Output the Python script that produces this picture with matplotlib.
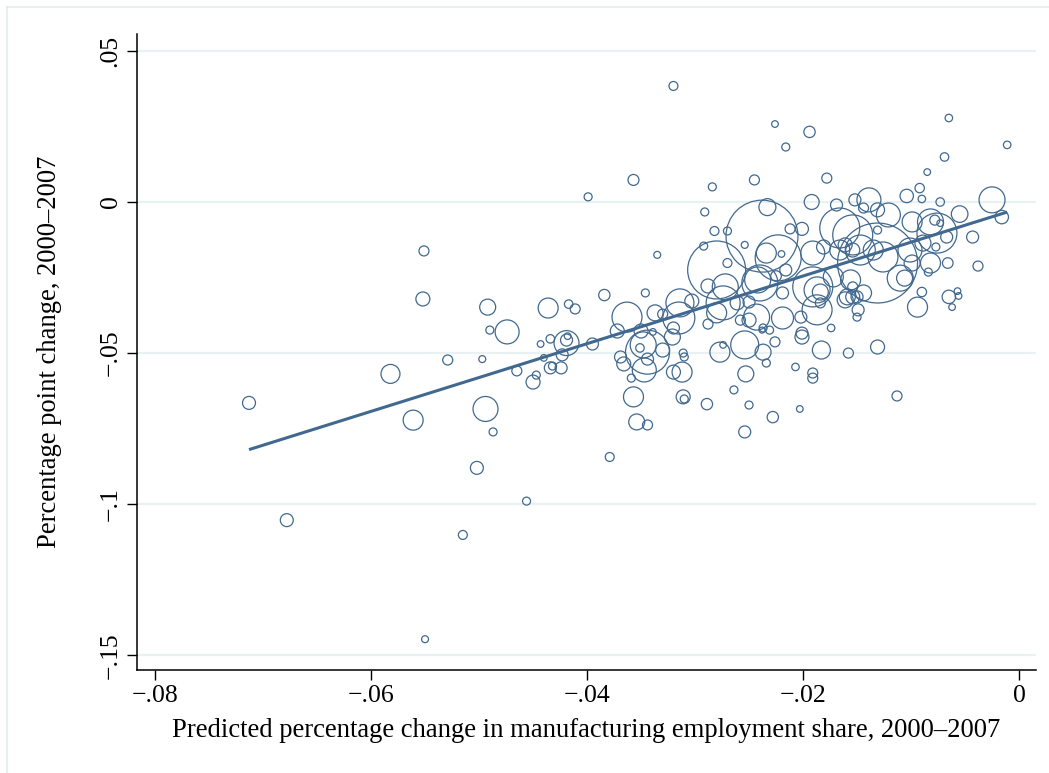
import numpy as np
import matplotlib
matplotlib.use("Agg")
import matplotlib.pyplot as plt
from matplotlib.lines import Line2D

# predicted change in manufacturing employment share (x), observed change (y), population weight
PRED_CHANGE = [
    -0.0713, -0.0678, -0.0582, -0.0561, -0.0551, -0.0552, -0.0550, -0.0529, -0.0515, -0.0502,
    -0.0497, -0.0494, -0.0492, -0.0490, -0.0487, -0.0474, -0.0465, -0.0456, -0.0450, -0.0447,
    -0.0443, -0.0434, -0.0436, -0.0417, -0.0411, -0.0419, -0.0419, -0.0418, -0.0440, -0.0434,
    -0.0432, -0.0424, -0.0423, -0.0399, -0.0395, -0.0384, -0.0379, -0.0363, -0.0372, -0.0351,
    -0.0350, -0.0369, -0.0366, -0.0359, -0.0344, -0.0347, -0.0348, -0.0344, -0.0330, -0.0337,
    -0.0330, -0.0320, -0.0321, -0.0357, -0.0346, -0.0335, -0.0320, -0.0314, -0.0315, -0.0303,
    -0.0311, -0.0310, -0.0320, -0.0312, -0.0357, -0.0311, -0.0310, -0.0289, -0.0354, -0.0344,
    -0.0291, -0.0284, -0.0282, -0.0270, -0.0254, -0.0292, -0.0270, -0.0280, -0.0245, -0.0238,
    -0.0233, -0.0216, -0.0226, -0.0194, -0.0178, -0.0192, -0.0212, -0.0201, -0.0288, -0.0274,
    -0.0272, -0.0288, -0.0277, -0.0274, -0.0254, -0.0253, -0.0264, -0.0250, -0.0254, -0.0261,
    -0.0258, -0.0250, -0.0250, -0.0242, -0.0223, -0.0234, -0.0220, -0.0240, -0.0225, -0.0216,
    -0.0219, -0.0219, -0.0231, -0.0238, -0.0201, -0.0202, -0.0243, -0.0237, -0.0226, -0.0201,
    -0.0183, -0.0174, -0.0158, -0.0131, -0.0237, -0.0234, -0.0207, -0.0191, -0.0191, -0.0113,
    -0.0228, -0.0203, -0.0169, -0.0152, -0.0166, -0.0191, -0.0181, -0.0166, -0.0161, -0.0154,
    -0.0191, -0.0187, -0.0184, -0.0184, -0.0172, -0.0159, -0.0150, -0.0187, -0.0154, -0.0139,
    -0.0131, -0.0154, -0.0147, -0.0126, -0.0101, -0.0089, -0.0099, -0.0106, -0.0082, -0.0084,
    -0.0090, -0.0094, -0.0065, -0.0057, -0.0056, -0.0062, -0.0144, -0.0154, -0.0161, -0.0149,
    -0.0150, -0.0156, -0.0121, -0.0131, -0.0144, -0.0099, -0.0082, -0.0076, -0.0077, -0.0066,
    -0.0038, -0.0043, -0.0055, -0.0016, -0.0025, -0.0073, -0.0104, -0.0090, -0.0092, -0.0085,
    -0.0069, -0.0011, -0.0065, -0.0110, -0.0067, -0.0135, -0.0131, -0.0078, -0.0073, -0.0339,
    -0.0280,
]
EMP_CHANGE = [
    -0.0665, -0.1053, -0.0569, -0.0722, -0.0162, -0.0321, -0.1447, -0.0523, -0.1102, -0.0880,
    -0.0520, -0.0685, -0.0348, -0.0424, -0.0761, -0.0430, -0.0559, -0.0990, -0.0596, -0.0573,
    -0.0470, -0.0453, -0.0351, -0.0338, -0.0354, -0.0457, -0.0467, -0.0444, -0.0516, -0.0549,
    -0.0543, -0.0549, -0.0506, 0.0017, -0.0470, -0.0308, -0.0844, -0.0381, -0.0427, -0.0483,
    -0.0427, -0.0513, -0.0536, -0.0583, -0.0497, -0.0556, -0.0473, -0.0520, -0.0490, -0.0367,
    -0.0371, -0.0417, -0.0447, 0.0073, -0.0301, -0.0175, 0.0384, -0.0334, -0.0384, -0.0328,
    -0.0500, -0.0513, -0.0563, -0.0563, -0.0645, -0.0645, -0.0652, -0.0669, -0.0728, -0.0738,
    -0.0033, 0.0050, -0.0096, -0.0096, -0.0142, -0.0146, -0.0202, -0.0225, 0.0073, -0.0113,
    -0.0017, 0.0182, 0.0258, 0.0232, 0.0079, 0.0000, -0.0089, -0.0089, -0.0278, -0.0334,
    -0.0281, -0.0404, -0.0497, -0.0473, -0.0473, -0.0569, -0.0622, -0.0672, -0.0761, -0.0334,
    -0.0391, -0.0331, -0.0391, -0.0258, -0.0185, -0.0169, -0.0172, -0.0268, -0.0245, -0.0225,
    -0.0301, -0.0384, -0.0424, -0.0424, -0.0434, -0.0381, -0.0381, -0.0417, -0.0463, -0.0447,
    -0.0490, -0.0417, -0.0500, -0.0480, -0.0497, -0.0533, -0.0546, -0.0566, -0.0583, -0.0642,
    -0.0712, -0.0685, -0.0010, 0.0007, -0.0086, -0.0169, -0.0149, -0.0159, -0.0142, -0.0159,
    -0.0281, -0.0291, -0.0298, -0.0334, -0.0248, -0.0314, -0.0314, -0.0357, -0.0281, 0.0007,
    -0.0202, -0.0109, -0.0159, -0.0182, -0.0159, -0.0136, -0.0202, -0.0252, -0.0202, -0.0232,
    -0.0298, -0.0348, -0.0314, -0.0295, -0.0311, -0.0348, -0.0301, -0.0314, -0.0324, -0.0357,
    -0.0381, -0.0258, -0.0043, -0.0026, -0.0020, -0.0066, -0.0066, -0.0103, -0.0149, -0.0202,
    -0.0212, -0.0116, -0.0040, -0.0050, 0.0007, 0.0000, 0.0020, 0.0010, 0.0046, 0.0099,
    0.0149, 0.0189, 0.0278, -0.0252, -0.0116, -0.0159, -0.0093, -0.0060, -0.0070, -0.0430,
    -0.0367,
]
POP_WEIGHT = [
    42, 42, 90, 100, 25, 49, 12, 25, 20, 42,
    12, 156, 64, 16, 16, 144, 25, 16, 49, 16,
    11, 18, 100, 18, 25, 36, 156, 11, 11, 36,
    16, 36, 36, 16, 36, 32, 20, 225, 49, 18,
    49, 36, 49, 16, 484, 144, 169, 36, 49, 64,
    25, 36, 64, 30, 16, 12, 20, 196, 256, 49,
    16, 16, 49, 100, 100, 49, 16, 32, 64, 25,
    16, 16, 20, 16, 12, 16, 20, 841, 25, 1296,
    72, 16, 11, 32, 25, 56, 25, 42, 49, 289,
    169, 25, 100, 11, 196, 64, 16, 16, 36, 49,
    25, 36, 49, 169, 529, 100, 11, 324, 28, 36,
    36, 121, 16, 9, 36, 36, 169, 16, 25, 49,
    81, 14, 25, 49, 64, 16, 14, 25, 25, 25,
    32, 11, 36, 36, 400, 144, 49, 100, 49, 49,
    400, 169, 64, 25, 100, 64, 36, 225, 25, 144,
    1600, 400, 225, 225, 144, 64, 64, 64, 100, 16,
    22, 100, 45, 11, 11, 11, 64, 49, 64, 36,
    16, 100, 144, 49, 25, 100, 169, 400, 16, 28,
    25, 36, 69, 45, 169, 18, 45, 14, 22, 11,
    18, 14, 14, 169, 36, 100, 16, 25, 11, 11,
    100,
]

# weighted linear fit shown in the chart
FIT_INTERCEPT = -0.0021
FIT_SLOPE = 1.12

X_TICKS = [-0.08, -0.06, -0.04, -0.02, 0.0]
X_TICK_LABELS = ["\u2212.08", "\u2212.06", "\u2212.04", "\u2212.02", "0"]
Y_TICKS = [-0.15, -0.10, -0.05, 0.0, 0.05]
Y_TICK_LABELS = ["\u2212.15", "\u2212.1", "\u2212.05", "0", ".05"]

COLOR = "#41698f"
GRID = "#eaf1f2"

plt.rcParams["font.family"] = ["Liberation Serif", "DejaVu Serif"]

x = np.array(PRED_CHANGE)
y = np.array(EMP_CHANGE)
w = np.array(POP_WEIGHT, dtype=float)
assert len(x) == len(y) == len(w)

fig = plt.figure(figsize=(10.49, 7.73), dpi=100)
ax = fig.add_axes([137 / 1049, 1 - 670 / 773, (1036 - 137) / 1049, (670 - 34) / 773])

for yt in Y_TICKS:
    ax.axhline(yt, color=GRID, lw=1.6, zorder=0)

ax.scatter(x, y, s=w * 2.07, facecolors="none", edgecolors=COLOR, linewidths=0.9, zorder=2)

xs = np.array([x.min(), x.max()])
ax.plot(xs, FIT_INTERCEPT + FIT_SLOPE * xs, color=COLOR, lw=2.2, zorder=3,
        solid_capstyle="butt")

ax.set_xlim(-0.08167, 0.00157)
ax.set_ylim(-0.1549, 0.0556)
ax.set_xticks(X_TICKS)
ax.set_xticklabels(X_TICK_LABELS, fontsize=18.5)
ax.set_yticks(Y_TICKS)
ax.set_yticklabels(Y_TICK_LABELS, fontsize=18.5, rotation=90, va="center")
ax.tick_params(direction="out", length=7, width=1.0, color="black", pad=4)

for side in ("top", "right"):
    ax.spines[side].set_visible(False)
for side in ("left", "bottom"):
    ax.spines[side].set_linewidth(1.1)

ax.set_xlabel("Predicted percentage change in manufacturing employment share, 2000\u20132007",
              fontsize=19.2)
ax.set_ylabel("Percentage point change, 2000\u20132007", fontsize=19.2)
ax.xaxis.set_label_coords(0.5, -0.076)
ax.yaxis.set_label_coords(-0.083, 0.5)

# faint outer frame (top and left edges visible)
fig.add_artist(Line2D([7 / 1049, 1.0], [1 - 7 / 773, 1 - 7 / 773], color="#e4eaec", lw=1.2))
fig.add_artist(Line2D([7 / 1049, 7 / 1049], [0.0, 1 - 7 / 773], color="#e4eaec", lw=1.2))

fig.savefig("out.png", dpi=100)
